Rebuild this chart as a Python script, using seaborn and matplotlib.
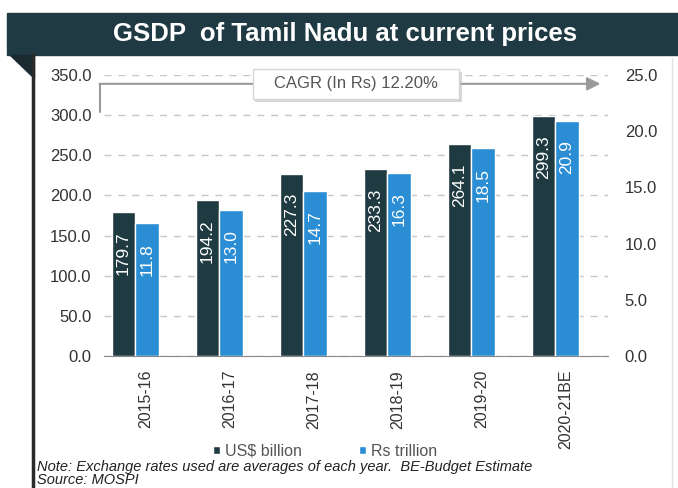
import matplotlib
matplotlib.use("Agg")
import matplotlib.pyplot as plt
import matplotlib.transforms as mtransforms
import matplotlib.patheffects as pe
from matplotlib.patches import Rectangle, Polygon, Patch
from matplotlib.lines import Line2D
import seaborn as sns
import pandas as pd

# ---- data ----
years = ['2015-16', '2016-17', '2017-18', '2018-19', '2019-20', '2020-21BE']
usd_billion = [179.7, 194.2, 227.3, 233.3, 264.1, 299.3]
rs_trillion = [11.8, 13.0, 14.7, 16.3, 18.5, 20.9]
left_ticks = [0, 50, 100, 150, 200, 250, 300, 350]
right_ticks = [0, 5, 10, 15, 20, 25]
title = "GSDP  of Tamil Nadu at current prices"
cagr_text = "CAGR (In Rs) 12.20%"
note_text = "Note: Exchange rates used are averages of each year.  BE-Budget Estimate"
source_text = "Source: MOSPI"

DARK = '#1f3a41'
BLUE = '#2b8dd3'
TXT = '#333333'

sns.set_style('white')
plt.rcParams['font.family'] = ['Liberation Sans', 'DejaVu Sans']

W, H = 678, 488
fig = plt.figure(figsize=(W / 100, H / 100), dpi=100)

def fx(px):
    return px / W

def fy(py):
    return 1 - py / H

ax1 = fig.add_axes([fx(104), fy(356), fx(608) - fx(104), fy(75) - fy(356)])
ax2 = ax1.twinx()

df = pd.DataFrame({'year': years, 'usd': usd_billion, 'rs': rs_trillion})

bw = 0.277
sns.barplot(data=df, x='year', y='usd', ax=ax1, color=DARK, width=bw,
            saturation=1, errorbar=None, zorder=3)
sns.barplot(data=df, x='year', y='rs', ax=ax2, color=BLUE, width=bw,
            saturation=1, errorbar=None, zorder=3)

# shift bars: dark left of centre, blue just right of it
for p in ax1.patches:
    p.set_x(p.get_x() - 0.268)
for p in ax2.patches:
    p.set_x(p.get_x() + 0.012)

for ax, vals in ((ax1, usd_billion), (ax2, rs_trillion)):
    for p, v in zip(ax.patches, vals):
        ax.annotate(f'{v:.1f}', xy=(p.get_x() + p.get_width() / 2, v),
                    xytext=(0, -14), textcoords='offset points',
                    rotation=90, ha='center', va='top', color='white',
                    fontsize=12.5, zorder=5)

ax1.set_ylim(0, 350)
ax2.set_ylim(0, 25)
ax1.set_xlim(-0.5, len(years) - 0.5)

ax1.set_yticks(left_ticks)
ax1.set_yticklabels([f'{v:.1f}' for v in left_ticks], fontsize=12, color=TXT)
ax2.set_yticks(right_ticks)
ax2.set_yticklabels([f'{v:.1f}' for v in right_ticks], fontsize=12, color=TXT)
ax1.tick_params(axis='y', length=0, pad=9)
ax2.tick_params(axis='y', length=0, pad=12)

ax1.set_xticks(range(len(years)))
ax1.set_xticklabels(years, rotation=90, fontsize=11.5, color=TXT)
ax1.set_xticks([i - 0.5 for i in range(len(years) + 1)], minor=True)
ax1.tick_params(axis='x', which='major', length=0, pad=10)
ax1.tick_params(axis='x', which='minor', length=5, color='#888888', width=1, direction='out')

ax1.set_xlabel('')
ax1.set_ylabel('')
ax2.set_xlabel('')
ax2.set_ylabel('')

for ax in (ax1, ax2):
    for s in ('left', 'right', 'top'):
        ax.spines[s].set_visible(False)
ax1.spines['bottom'].set_color('#888888')
ax2.spines['bottom'].set_visible(False)

ax1.yaxis.grid(True, linestyle=(0, (5, 5)), color='#c6c6c6', linewidth=1)
ax1.set_axisbelow(True)

# CAGR arrow
blend = mtransforms.blended_transform_factory(ax1.transAxes, ax1.transData)
ax1.plot([-0.008, -0.008], [304, 339], transform=blend, color='#999999',
         lw=1.5, clip_on=False, zorder=6)
ax1.annotate('', xy=(0.985, 339), xytext=(-0.009, 339), xycoords=blend,
             textcoords=blend,
             arrowprops=dict(arrowstyle='-|>', color='#9a9a9a', lw=1.5,
                             mutation_scale=20, shrinkA=0, shrinkB=0),
             zorder=6, annotation_clip=False)
cagr = ax1.text(0.5, 339, '   ' + cagr_text + '   ', transform=blend,
                ha='center', va='center', fontsize=12, color='#555555', zorder=7,
                bbox=dict(boxstyle='square,pad=0.45', fc='white', ec='#d6d6d6', lw=1))
cagr.get_bbox_patch().set_path_effects(
    [pe.SimplePatchShadow(offset=(2, -2), shadow_rgbFace='#bbbbbb', alpha=0.6), pe.Normal()])

# title banner
fig.add_artist(Rectangle((fx(7), fy(55)), 1 - fx(7), fy(13) - fy(55),
                         transform=fig.transFigure, color='#1f3a42', zorder=0))
fig.add_artist(Polygon([(fx(10), fy(55)), (fx(34), fy(55)), (fx(34), fy(78))],
                       closed=True, transform=fig.transFigure,
                       color='#1a2a30', zorder=0))
fig.add_artist(Line2D([fx(33), fx(33)], [fy(55), 0], transform=fig.transFigure,
                      color='#2a2a2a', lw=2.5))
fig.add_artist(Line2D([fx(672), fx(672)], [fy(58), 0], transform=fig.transFigure,
                      color='#e2e2e2', lw=1))
fig.text(fx(345), fy(34), title, ha='center', va='center', color='white',
         fontsize=18.5, fontweight='bold')

# legend
handles = [Patch(facecolor=DARK, label='US$ billion'),
           Patch(facecolor=BLUE, label='Rs trillion')]
fig.legend(handles=handles, loc='center', bbox_to_anchor=(fx(325), fy(451)),
           ncol=2, frameon=False, fontsize=11.5, handlelength=0.45,
           handleheight=0.45, handletextpad=0.3, columnspacing=3.6,
           labelcolor='#555555')

# footnotes
fig.text(fx(37), fy(467), note_text, ha='left', va='center', fontsize=10.5,
         style='italic', color='#222222')
fig.text(fx(37), fy(480), source_text, ha='left', va='center', fontsize=10.5,
         style='italic', color='#222222')

fig.savefig('out.png', dpi=100)
